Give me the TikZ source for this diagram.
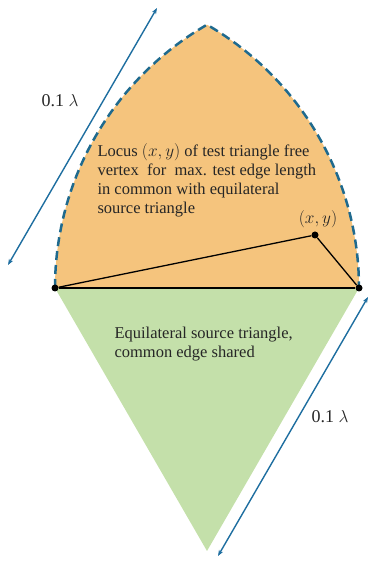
\documentclass[tikz,border=0pt]{standalone}
\usepackage{fontspec}
\setmainfont{Liberation Serif}
\usepackage{xcolor}
\usetikzlibrary{arrows.meta, positioning}

\definecolor{locusorange}{RGB}{245,196,125}
\definecolor{sourcegreen}{RGB}{196,224,170}
\definecolor{dashblue}{RGB}{31,106,142}
\definecolor{dimblue}{RGB}{30,110,160}

\begin{document}
\begin{tikzpicture}[
    x=1pt, y=1pt,
    every node/.style={align=left, text=black!85, font=\fontsize{16.5}{19}\selectfont},
    biglabel/.style={font=\fontsize{18}{20}\selectfont},
    edge/.style={line width=1.3pt, black},
    locus/.style={dashblue, line width=2.5pt, dash pattern=on 9pt off 5pt},
    dim/.style={{Stealth[length=6pt]}-{Stealth[length=6pt]}, dimblue, line width=1.4pt},
    vertex/.style={circle, fill=black, inner sep=0pt, minimum size=7pt}
]
\useasboundingbox (0,0) rectangle (371,562);

% Vertices of the source triangle and the lens
\coordinate (A) at (55,274);
\coordinate (B) at (359,274);
\coordinate (C) at (207,537);
\coordinate (D) at (207,11);

% Locus region and source triangle
\fill[locusorange] (A) arc[start angle=180, end angle=120, radius=304] arc[start angle=60, end angle=0, radius=304] -- cycle;
\fill[sourcegreen] (A) -- (B) -- (D) -- cycle;
\draw[locus] (A) arc[start angle=180, end angle=120, radius=304] arc[start angle=60, end angle=0, radius=304];

% Test triangle
\node[vertex] (a) at (A) {};
\node[vertex] (b) at (B) {};
\node[vertex] (p) at (315,327) {};
\draw[edge] (a) -- (b);
\draw[edge] (a) -- (p) -- (b);
\node[biglabel, above=0pt of p, xshift=3pt] (plabel) {$(x,y)$};

% Edge length markers
\coordinate (t1) at (8,297);
\coordinate (t2) at (157,554);
\coordinate (r1) at (368,265);
\coordinate (r2) at (218,6);
\draw[dim] (t1) -- (t2);
\draw[dim] (r1) -- (r2);
\node[biglabel] (toplen) at (60,461) {0.1 $\lambda$};
\node[biglabel] (botlen) at (330,145) {0.1 $\lambda$};

% Labels
\node[anchor=north west] (locustext) at (94,422) {Locus $(x,y)$ of test triangle free\\vertex\ \ for\ \ max. test edge length\\in common with equilateral\\source triangle};
\node[anchor=north west] (sourcetext) at (111,238) {Equilateral source triangle,\\ common edge shared};

\end{tikzpicture}
\end{document}
